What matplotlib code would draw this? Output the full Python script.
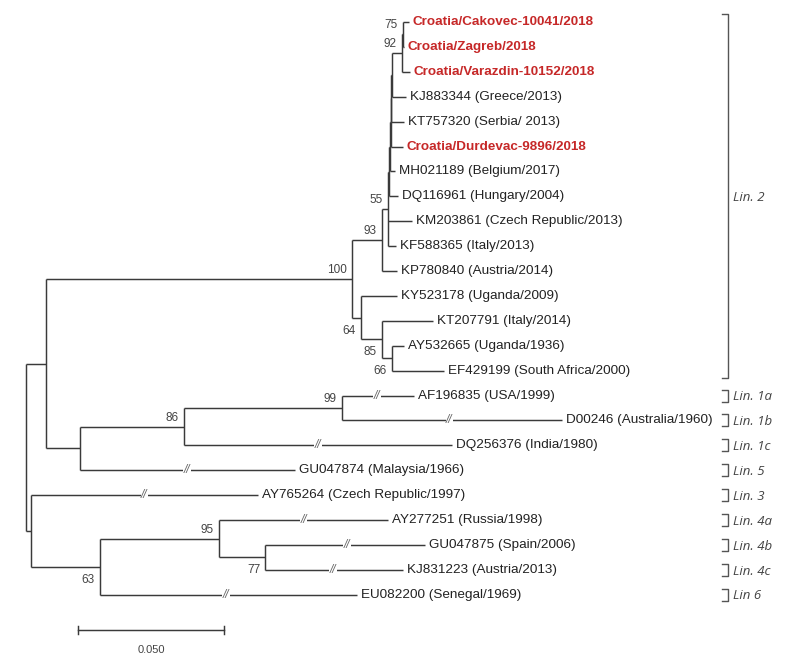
import matplotlib
matplotlib.use("Agg")
import matplotlib.pyplot as plt

# ---------------- data ----------------
# ordered children of every internal node
children = {
    "root": ["A", "B"],
    "A": ["L2", "L15"],
    "L2": ["N93", "N64"],
    "N93": ["N55", "KP780840"],
    "N55": ["G", "KM203861", "KF588365"],
    "G": ["H", "DQ116961"],
    "H": ["I", "MH021189"],
    "I": ["J", "Durdevac"],
    "J": ["K", "KT757320"],
    "K": ["N92", "KJ883344"],
    "N92": ["N75", "Varazdin"],
    "N75": ["Cakovec", "Zagreb"],
    "N64": ["KY523178", "N85"],
    "N85": ["KT207791", "N66"],
    "N66": ["AY532665", "EF429199"],
    "L15": ["N86", "GU047874"],
    "N86": ["N99", "DQ256376"],
    "N99": ["AF196835", "D00246"],
    "B": ["AY765264", "N63"],
    "N63": ["N95", "EU082200"],
    "N95": ["AY277251", "N77"],
    "N77": ["GU047875", "KJ831223"],
}

# branch lengths (substitutions/site, as drawn)
lengths = {
    "A": 0.0068, "B": 0.0017, "L2": 0.1048, "N93": 0.0103, "N55": 0.0021,
    "G": 0.0003, "H": 0.0003, "I": 0.0003, "J": 0.0002, "K": 0.0002,
    "N92": 0.0034, "N75": 0.0003,
    "Cakovec": 0.0021, "Zagreb": 0.0003, "Varazdin": 0.0027, "KJ883344": 0.0048,
    "KT757320": 0.0045, "Durdevac": 0.0041,
    "MH021189": 0.0017, "DQ116961": 0.0031, "KM203861": 0.0082,
    "KF588365": 0.0027, "KP780840": 0.0051, "N64": 0.0031, "KY523178": 0.0123,
    "N85": 0.0072, "KT207791": 0.0175, "N66": 0.0034, "AY532665": 0.0041,
    "EF429199": 0.0178, "L15": 0.0116, "N86": 0.0356, "N99": 0.0541,
    "AF196835": 0.0247, "D00246": 0.0753, "DQ256376": 0.0918,
    "GU047874": 0.0736, "AY765264": 0.0777, "N63": 0.0236, "N95": 0.0408,
    "N77": 0.0158, "AY277251": 0.0579, "GU047875": 0.0548,
    "KJ831223": 0.0473, "EU082200": 0.0880,
}

leaf_labels = {
    "Cakovec": "Croatia/Cakovec-10041/2018",
    "Zagreb": "Croatia/Zagreb/2018",
    "Varazdin": "Croatia/Varazdin-10152/2018",
    "KJ883344": "KJ883344 (Greece/2013)",
    "KT757320": "KT757320 (Serbia/ 2013)",
    "Durdevac": "Croatia/Durdevac-9896/2018",
    "MH021189": "MH021189 (Belgium/2017)",
    "DQ116961": "DQ116961 (Hungary/2004)",
    "KM203861": "KM203861 (Czech Republic/2013)",
    "KF588365": "KF588365 (Italy/2013)",
    "KP780840": "KP780840 (Austria/2014)",
    "KY523178": "KY523178 (Uganda/2009)",
    "KT207791": "KT207791 (Italy/2014)",
    "AY532665": "AY532665 (Uganda/1936)",
    "EF429199": "EF429199 (South Africa/2000)",
    "AF196835": "AF196835 (USA/1999)",
    "D00246": "D00246 (Australia/1960)",
    "DQ256376": "DQ256376 (India/1980)",
    "GU047874": "GU047874 (Malaysia/1966)",
    "AY765264": "AY765264 (Czech Republic/1997)",
    "AY277251": "AY277251 (Russia/1998)",
    "GU047875": "GU047875 (Spain/2006)",
    "KJ831223": "KJ831223 (Austria/2013)",
    "EU082200": "EU082200 (Senegal/1969)",
}
croatian = ["Cakovec", "Zagreb", "Varazdin", "Durdevac"]

support = {"N75": "75", "N92": "92", "N55": "55", "N93": "93", "L2": "100",
           "N64": "64", "N85": "85", "N66": "66", "N86": "86", "N99": "99",
           "N95": "95", "N77": "77", "N63": "63"}

# broken (shortened) branches: fraction of branch where "//" sits
breaks = {"AF196835": 0.49, "D00246": 0.49, "DQ256376": 0.50,
          "GU047874": 0.50, "AY765264": 0.50, "AY277251": 0.50,
          "GU047875": 0.51, "KJ831223": 0.49, "EU082200": 0.49}

# lineage brackets: (label, first leaf, last leaf)
lineages = [("Lin. 2", "Cakovec", "EF429199"), ("Lin. 1a", "AF196835", "AF196835"),
            ("Lin. 1b", "D00246", "D00246"), ("Lin. 1c", "DQ256376", "DQ256376"),
            ("Lin. 5", "GU047874", "GU047874"), ("Lin. 3", "AY765264", "AY765264"),
            ("Lin. 4a", "AY277251", "AY277251"), ("Lin. 4b", "GU047875", "GU047875"),
            ("Lin. 4c", "KJ831223", "KJ831223"), ("Lin 6", "EU082200", "EU082200")]

scale_value = 0.05
scale_label = "0.050"

# ---------------- layout ----------------
X, Y = {}, {}
order = []

def layout(node, x):
    X[node] = x
    if node not in children:
        Y[node] = len(order)
        order.append(node)
        return
    for c in children[node]:
        layout(c, x + lengths[c])
    Y[node] = (Y[children[node][0]] + Y[children[node][-1]]) / 2

layout("root", 0.0)

# ---------------- figure ----------------
W, H = 788, 660
PX = 1 / 2920.0   # units per pixel horizontally
ROW = 24.9        # pixels per leaf row
fig = plt.figure(figsize=(W / 100, H / 100), dpi=100)
ax = fig.add_axes([0, 0, 1, 1])
ax.set_xlim(-26 * PX, (W - 26) * PX)
ax.set_ylim((H - 22) / ROW, -22 / ROW)
ax.axis("off")

LC = "#3a3a3a"
LW = 1.05
font = "Liberation Sans"

for node, kids in children.items():
    xn = X[node]
    ax.plot([xn, xn], [Y[kids[0]], Y[kids[-1]]], color=LC, lw=LW,
            solid_capstyle="butt")
    for c in kids:
        ax.plot([xn, X[c]], [Y[c], Y[c]], color=LC, lw=LW, solid_capstyle="butt")
        if c in breaks:
            bx = xn + breaks[c] * (X[c] - xn)
            ax.text(bx, Y[c], "//", ha="center", va="center", fontsize=8.5,
                    color="#666666", family=font, style="italic",
                    bbox=dict(boxstyle="square,pad=0.05", fc="white", ec="none"))

# support values
for node, s in support.items():
    par = [p for p, k in children.items() if node in k][0]
    first = children[par][0] == node
    if first:
        ax.text(X[node] - 5 * PX, Y[node] - 3 / ROW, s, ha="right", va="bottom",
                fontsize=8.5, color="#444444", family=font)
    else:
        ax.text(X[node] - 5 * PX, Y[node] + 7 / ROW, s, ha="right", va="top",
                fontsize=8.5, color="#444444", family=font)

# leaf labels
for leaf in order:
    red = leaf in croatian
    ax.text(X[leaf] + 4 * PX, Y[leaf], leaf_labels[leaf], ha="left", va="center",
            fontsize=9.7, family=font,
            color="#c62828" if red else "#222222",
            fontweight="bold" if red else "normal")

# lineage brackets
bx0, bx1 = 722 * PX - 26 * PX, 728 * PX - 26 * PX
for name, a, b in lineages:
    if a == b:
        top, bot = Y[a] - 6 / ROW, Y[b] + 6 / ROW
    else:
        top, bot = Y[a] - 8 / ROW, Y[b] + 7 / ROW
    ax.plot([bx0, bx1, bx1, bx0], [top, top, bot, bot], color="#555555", lw=1.0)
    ax.text(bx1 + 5 * PX, (top + bot) / 2 + 0.05, name, ha="left", va="center",
            fontsize=9.5, family="Open Sans", style="italic", color="#444444")

# scale bar
sx0 = 52 * PX
sy = (630 - 22) / ROW
ax.plot([sx0, sx0 + scale_value], [sy, sy], color=LC, lw=LW)
for sx in (sx0, sx0 + scale_value):
    ax.plot([sx, sx], [sy - 4 / ROW, sy + 4 / ROW], color=LC, lw=LW)
ax.text(sx0 + scale_value / 2, sy + 20 / ROW, scale_label, ha="center",
        va="center", fontsize=8, color="#444444", family=font)

fig.savefig("out.png", dpi=100)
